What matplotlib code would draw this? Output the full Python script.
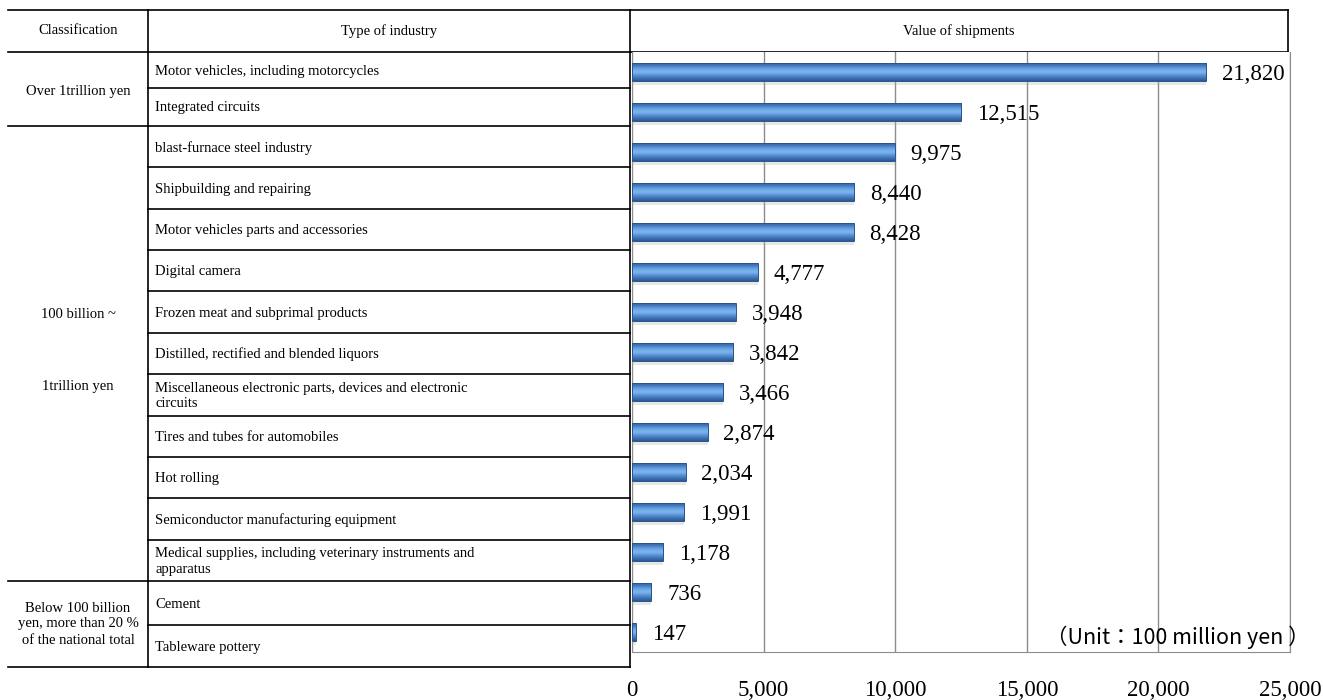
import matplotlib.pyplot as plt
import numpy as np
from matplotlib.colors import LinearSegmentedColormap

plt.rcParams['font.family'] = ['Liberation Serif', 'DejaVu Serif']

# data
industries = [
    "Motor vehicles, including motorcycles",
    "Integrated circuits",
    "blast-furnace steel industry",
    "Shipbuilding and repairing",
    "Motor vehicles parts and accessories",
    "Digital camera",
    "Frozen meat and subprimal products",
    "Distilled, rectified and blended liquors",
    "Miscellaneous electronic parts, devices and electronic\ncircuits",
    "Tires and tubes for automobiles",
    "Hot rolling",
    "Semiconductor manufacturing equipment",
    "Medical supplies, including veterinary instruments and\napparatus",
    "Cement",
    "Tableware pottery",
]
shipments = [21820, 12515, 9975, 8440, 8428, 4777, 3948, 3842, 3466,
             2874, 2034, 1991, 1178, 736, 147]
groups = ["Over 1trillion yen",
          "100 billion ~\n1trillion yen",
          "Below 100 billion\nyen, more than 20 %\nof the national total"]
group_sizes = [2, 11, 2]
xticks = [0, 5000, 10000, 15000, 20000, 25000]

W, H = 1323, 700
fig = plt.figure(figsize=(W / 100, H / 100), dpi=100)

# table drawn in pixel space
tab = fig.add_axes([0, 0, 1, 1])
tab.set_xlim(0, W)
tab.set_ylim(H, 0)
tab.axis('off')

x_left, x_div, x_type, x_right = 8, 148, 630, 1288
y_top, y_head = 10, 52
# row edges of the table (rows are not all the same height)
edges = [52, 88, 126] + [126 + (581 - 126) * k / 11 for k in range(1, 12)] + [625, 667]
y_bot = edges[-1]

lw = 1.2
tab.plot([x_left, x_right], [y_top, y_top], c='k', lw=lw)
tab.plot([x_left, x_right], [y_head, y_head], c='k', lw=lw)
tab.plot([x_div, x_div], [y_top, y_bot], c='k', lw=lw)
tab.plot([x_type, x_type], [y_top, y_bot], c='k', lw=lw)
tab.plot([x_right, x_right], [y_top, y_head], c='k', lw=lw)
tab.text((x_left + x_div) / 2, (y_top + y_head) / 2, "Classification",
         ha='center', va='center', fontsize=10.5)
tab.text((x_div + x_type) / 2, (y_top + y_head) / 2, "Type of industry",
         ha='center', va='center', fontsize=10.5)
tab.text((x_type + x_right) / 2, (y_top + y_head) / 2, "Value of shipments",
         ha='center', va='center', fontsize=10.5)

for i, name in enumerate(industries):
    y0, y1 = edges[i], edges[i + 1]
    tab.plot([x_div, x_type], [y1, y1], c='k', lw=lw)
    tab.text(x_div + 7, (y0 + y1) / 2 + 1, name, ha='left', va='center',
             fontsize=10.5, linespacing=1.25)

group_spacing = [1.2, 6.9, 1.3]
group_shift = [3, -3, 0]
start = 0
for g, size, sp, dy in zip(groups, group_sizes, group_spacing, group_shift):
    g0 = edges[start]
    g1 = edges[start + size]
    tab.plot([x_left, x_div], [g1, g1], c='k', lw=lw)
    tab.text((x_left + x_div) / 2, (g0 + g1) / 2 + dy, g, ha='center',
             va='center', fontsize=10.5, linespacing=sp)
    start += size

# bar chart
n = len(industries)
ax = fig.add_axes([632 / W, 1 - 652 / H, (1290 - 632) / W, (652 - 52) / H])
ax.set_xticks(xticks)
ax.set_xticklabels([f"{t:,}" for t in xticks], fontsize=16.5)
ax.set_yticks([])
ax.tick_params(axis='x', length=0, pad=20)
ax.grid(axis='x', color='#8c8c8c', lw=1)
ax.set_axisbelow(True)
for s in ['top', 'left']:
    ax.spines[s].set_visible(False)
for s in ['right', 'bottom']:
    ax.spines[s].set_color('#8c8c8c')

cmap = LinearSegmentedColormap.from_list(
    'bar', ['#2f5f9c', '#4a82c6', '#6aa6e6', '#7fb6f0', '#5b95d8', '#3f74b6', '#2b5890'])
grad = np.linspace(0, 1, 64).reshape(-1, 1)
bh = 0.43
for i, v in enumerate(shipments):
    # soft shadow under the bar
    ax.barh(i + 0.12, v, height=bh, color='#b0b0b0', alpha=0.3, zorder=2)
    ax.imshow(grad, cmap=cmap, aspect='auto', zorder=3,
              extent=(0, v, i + bh / 2, i - bh / 2))
    ax.barh(i, v, height=bh, facecolor='none', edgecolor='#2a558c',
            lw=0.7, zorder=4)
    ax.text(v + 600, i + 0.05, f"{v:,}", ha='left', va='center',
            fontsize=16.5, zorder=5)

ax.set_xlim(0, 25000)
ax.set_ylim(n - 0.5, -0.5)

fig.text(1310 / W, 1 - 637 / H, "（Unit：100 million yen ）", ha='right', va='center',
         fontsize=15.5, family=['Noto Sans CJK JP', 'DejaVu Sans'])

fig.savefig("out.png", dpi=100)
